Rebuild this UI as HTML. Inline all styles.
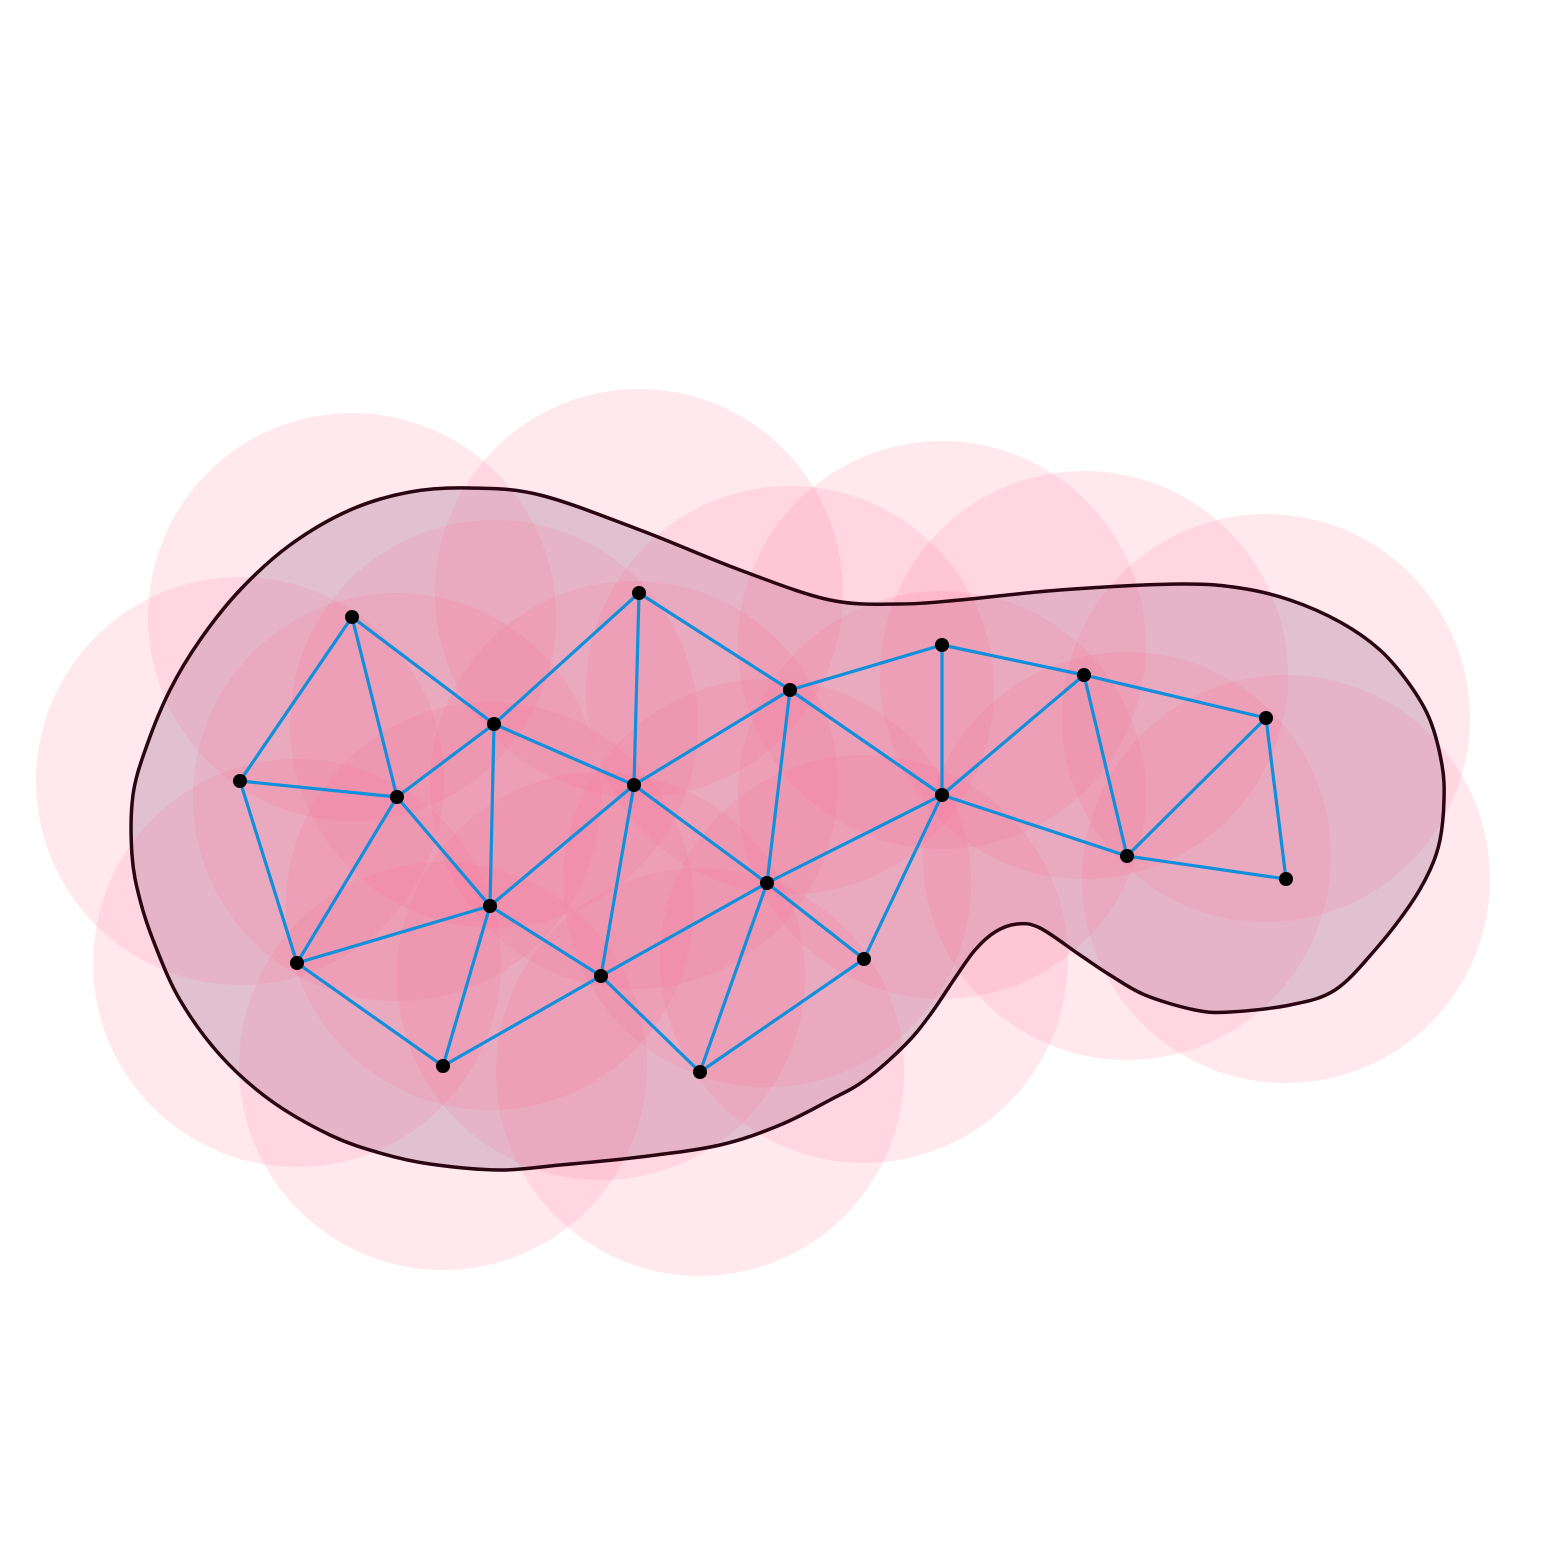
<!DOCTYPE html>
<html><head><meta charset="utf-8"><style>html,body{margin:0;padding:0;background:#fff}svg{display:block}</style></head>
<body>
<svg id="chart" width="1563" height="1563" viewBox="0 0 1563 1563" xmlns="http://www.w3.org/2000/svg">
<g id="hullFill"></g>
<g id="circles"></g>
<g id="edges"></g>
<g id="hullLine"></g>
<g id="dots"></g>
</svg>
<script>
const px=[352,639,494,240,397,634,790,942,1084,1266,942,1127,1286,767,490,297,601,864,443,700];
const py=[617,593,724,781,797,785,690,645,675,718,795,856,879,883,906,963,976,959,1066,1072];
const radius=204;
const edgeList=[[1,3],[1,4],[1,5],[2,3],[2,6],[2,7],[3,5],[3,6],[3,15],[4,5],[4,16],[5,15],[5,16],[6,7],[6,14],[6,15],[6,17],[7,8],[7,11],[7,14],[8,9],[8,11],[9,11],[9,10],[9,12],[10,12],[10,13],[12,13],[11,12],[11,14],[11,18],[14,18],[14,17],[14,20],[15,16],[15,17],[15,19],[16,19],[17,19],[17,20],[18,20]];
const hullX=[470,540,640,740,830,900,960,1060,1180,1240,1290,1340,1380,1410,1430,1442,1444,1440,1430,1410,1375,1335,1290,1230,1195,1145,1110,1080,1040,1017,995,975,955,930,905,865,830,780,720,640,560,500,430,380,330,270,220,180,155,140,132,133,147,170,200,240,290,350,410];
const hullY=[488,495,530,570,600,604,600,590,584,588,600,622,650,685,720,765,800,840,870,905,950,990,1005,1012,1010,995,975,955,928,924,932,950,978,1015,1045,1080,1100,1125,1145,1157,1165,1170,1164,1153,1135,1100,1055,1000,945,900,855,795,745,690,640,590,545,510,492];
const NS='http://www.w3.org/2000/svg';
function mk(t,a,p){const e=document.createElementNS(NS,t);for(const k in a)e.setAttribute(k,a[k]);p.appendChild(e);return e;}
function smooth(){const n=hullX.length;let d='M'+hullX[0]+','+hullY[0];
for(let i=0;i<n;i++){const i0=(i-1+n)%n,i2=(i+1)%n,i3=(i+2)%n;
const c1x=hullX[i]+(hullX[i2]-hullX[i0])/6,c1y=hullY[i]+(hullY[i2]-hullY[i0])/6;
const c2x=hullX[i2]-(hullX[i3]-hullX[i])/6,c2y=hullY[i2]-(hullY[i3]-hullY[i])/6;
d+=' C'+c1x+','+c1y+' '+c2x+','+c2y+' '+hullX[i2]+','+hullY[i2];}
return d+'Z';}
const pd=smooth();
const hf=mk('path',{d:pd,fill:'rgb(220,208,218)',stroke:'none'},document.getElementById('hullFill'));


const cg=document.getElementById('circles');
px.forEach((x,i)=>{const c=mk('circle',{cx:x,cy:py[i],r:radius,fill:'rgb(255,105,150)','fill-opacity':0.15},cg);

});
const eg=document.getElementById('edges');
edgeList.forEach(([a,b])=>{const l=mk('line',{x1:px[a-1],y1:py[a-1],x2:px[b-1],y2:py[b-1],stroke:'#0f8fdc','stroke-width':3.2},eg);

});
const hl=mk('path',{d:pd,fill:'none',stroke:'#2a0612','stroke-width':3.5,'stroke-linejoin':'round'},document.getElementById('hullLine'));


const dg=document.getElementById('dots');
px.forEach((x,i)=>{const d=mk('circle',{cx:x,cy:py[i],r:7,fill:'#000'},dg);

});
</script>
</body></html>
